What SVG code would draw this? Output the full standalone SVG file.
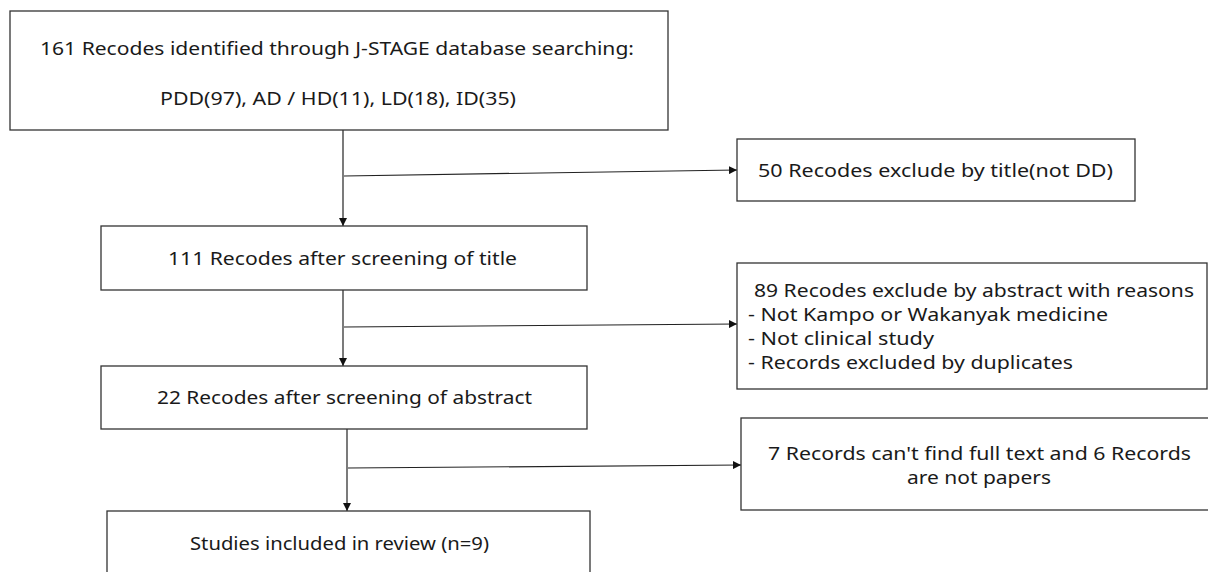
<svg xmlns="http://www.w3.org/2000/svg" width="1208" height="572" viewBox="0 0 1208 572">
<style>
.box{fill:#fff;stroke:#333;stroke-width:1.3}
.t{font-family:"Noto Sans","Liberation Sans",sans-serif;font-size:18.5px;fill:#1a1a1a}
.m{font-size:17.5px}
.ln{stroke:#222;stroke-width:1.2;fill:none}
</style>
<defs>
<marker id="ah" viewBox="0 0 10 10" refX="10" refY="5" markerWidth="8" markerHeight="8" markerUnits="userSpaceOnUse" orient="auto">
<path d="M0,0 L10,5 L0,10 z" fill="#111"/>
</marker>
</defs>
<rect width="1208" height="572" fill="#fff"/>
<g id="connectors">
<line class="ln" x1="343" y1="130" x2="343" y2="226" marker-end="url(#ah)"/>
<line class="ln" x1="344" y1="176" x2="737" y2="170" marker-end="url(#ah)"/>
<line class="ln" x1="343" y1="290" x2="343" y2="366" marker-end="url(#ah)"/>
<line class="ln" x1="344" y1="327" x2="737" y2="324" marker-end="url(#ah)"/>
<line class="ln" x1="347" y1="429" x2="347" y2="511" marker-end="url(#ah)"/>
<line class="ln" x1="348" y1="468" x2="741" y2="465" marker-end="url(#ah)"/>
</g>
<g id="n1">
<rect class="box" x="10" y="11" width="658" height="119"/>
<text class="t" x="40" y="55" textLength="594" lengthAdjust="spacingAndGlyphs">161 Recodes identified through J-STAGE database searching:</text>
<text class="t" x="160" y="105" textLength="356" lengthAdjust="spacingAndGlyphs">PDD(97), AD / HD(11), LD(18), ID(35)</text>
</g>
<g id="n2">
<rect class="box" x="737" y="139" width="398" height="62"/>
<text class="t" x="758" y="177" textLength="355" lengthAdjust="spacingAndGlyphs">50 Recodes exclude by title(not DD)</text>
</g>
<g id="n3">
<rect class="box" x="101" y="226" width="486" height="64"/>
<text class="t" x="168" y="265" textLength="349" lengthAdjust="spacingAndGlyphs">111 Recodes after screening of title</text>
</g>
<g id="n4">
<rect class="box" x="737" y="263" width="470" height="126"/>
<text class="t m" x="754" y="297" textLength="440" lengthAdjust="spacingAndGlyphs">89 Recodes exclude by abstract with reasons</text>
<text class="t m" x="748" y="321" textLength="360" lengthAdjust="spacingAndGlyphs">- Not Kampo or Wakanyak medicine</text>
<text class="t m" x="748" y="345" textLength="186" lengthAdjust="spacingAndGlyphs">- Not clinical study</text>
<text class="t m" x="748" y="369" textLength="325" lengthAdjust="spacingAndGlyphs">- Records excluded by duplicates</text>
</g>
<g id="n5">
<rect class="box" x="101" y="366" width="486" height="63"/>
<text class="t" x="157" y="404" textLength="375" lengthAdjust="spacingAndGlyphs">22 Recodes after screening of abstract</text>
</g>
<g id="n6">
<rect class="box" x="741" y="418" width="470" height="92"/>
<text class="t m" x="768" y="460" textLength="423" lengthAdjust="spacingAndGlyphs">7 Records can't find full text and 6 Records</text>
<text class="t m" x="907" y="484" textLength="144" lengthAdjust="spacingAndGlyphs">are not papers</text>
</g>
<g id="n7">
<rect class="box" x="107" y="511" width="483" height="70"/>
<text class="t" x="190" y="550" textLength="299" lengthAdjust="spacingAndGlyphs">Studies included in review (n=9)</text>
</g>
</svg>
